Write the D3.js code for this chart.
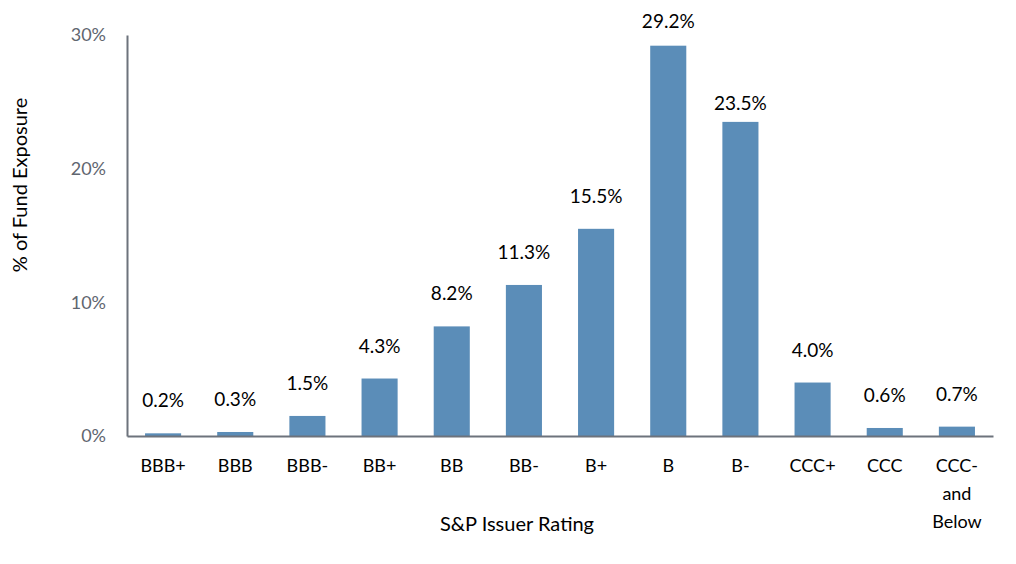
<!DOCTYPE html>
<html>
<head>
<meta charset="utf-8">
<script src="https://cdn.jsdelivr.net/npm/d3@7"></script>
<style>
  body { margin: 0; background: #fff; }
  text { font-family: Lato, "Open Sans", sans-serif; }
</style>
</head>
<body>
<svg id="chart" width="1016" height="564"></svg>
<script>
// donnees du graphique
var ratings = ["BBB+", "BBB", "BBB-", "BB+", "BB", "BB-", "B+", "B", "B-", "CCC+", "CCC", "CCC-\nand\nBelow"];
var exposure = [0.2, 0.3, 1.5, 4.3, 8.2, 11.3, 15.5, 29.2, 23.5, 4.0, 0.6, 0.7];
var yTicks = [0, 10, 20, 30];

var couleurBarre = "#5b8db8",
    couleurAxe = "#6d737c",
    couleurTick = "#5f6670";

var svg = d3.select("#chart");
var mLeft = 127, mRight = 993, mTop = 35, mBottom = 436;

var x = d3.scaleBand()
    .domain(ratings)
    .range([mLeft, mRight])
    .paddingInner(0.5)
    .paddingOuter(0.25);

var y = d3.scaleLinear()
    .domain([0, 30])
    .range([mBottom, mTop]);

// deplacement manuel de certaines etiquettes (comme dans l'original)
var labelNudge = {"B": 8, "B-": 14};

// barres
svg.selectAll("rect.bar")
    .data(exposure)
    .enter().append("rect")
    .attr("class", "bar")
    .attr("x", function(d, i){ return x(ratings[i]); })
    .attr("width", x.bandwidth())
    .attr("y", function(d){ return y(d); })
    .attr("height", function(d){ return y(0) - y(d); })
    .style("fill", couleurBarre);

// etiquettes des valeurs
svg.selectAll("text.val")
    .data(exposure)
    .enter().append("text")
    .attr("class", "val")
    .attr("x", function(d, i){ return x(ratings[i]) + x.bandwidth()/2; })
    .attr("y", function(d, i){ return y(d) - 26 + (labelNudge[ratings[i]] || 0); })
    .attr("text-anchor", "middle")
    .style("font-size", "19px")
    .style("fill", "#000")
    .text(function(d){ return d.toFixed(1) + "%"; });

// axe Y
var yAxis = d3.axisLeft(y)
    .tickValues(yTicks)
    .tickSize(0)
    .tickPadding(21)
    .tickFormat(function(d){ return d + "%"; });

var gy = svg.append("g")
    .attr("transform", "translate(" + mLeft + ",0)")
    .call(yAxis);
gy.select(".domain").attr("stroke", couleurAxe).attr("stroke-width", 2);
gy.selectAll("text")
    .style("font-size", "18px")
    .style("fill", couleurTick)
    .style("font-family", "Lato, sans-serif");

// axe X
var xAxis = d3.axisBottom(x).tickSize(0).tickFormat("");
var gx = svg.append("g")
    .attr("transform", "translate(0," + mBottom + ")")
    .call(xAxis);
gx.select(".domain").attr("stroke", couleurAxe).attr("stroke-width", 2);

// libelles de categories (multi-lignes)
var cat = svg.selectAll("text.cat")
    .data(ratings)
    .enter().append("text")
    .attr("class", "cat")
    .attr("text-anchor", "middle")
    .attr("y", 472)
    .style("font-size", "18px")
    .style("fill", "#000");
cat.each(function(d){
    var t = d3.select(this);
    d.split("\n").forEach(function(line, k){
        t.append("tspan")
            .attr("x", x(d) + x.bandwidth()/2)
            .attr("dy", k == 0 ? 0 : 28)
            .text(line);
    });
});

// titres des axes
svg.append("text")
    .attr("x", 517)
    .attr("y", 531)
    .attr("text-anchor", "middle")
    .style("font-size", "20px")
    .text("S&P Issuer Rating");

svg.append("text")
    .attr("transform", "translate(27,185) rotate(-90)")
    .attr("text-anchor", "middle")
    .style("font-size", "20px")
    .text("% of Fund Exposure");
</script>
</body>
</html>
